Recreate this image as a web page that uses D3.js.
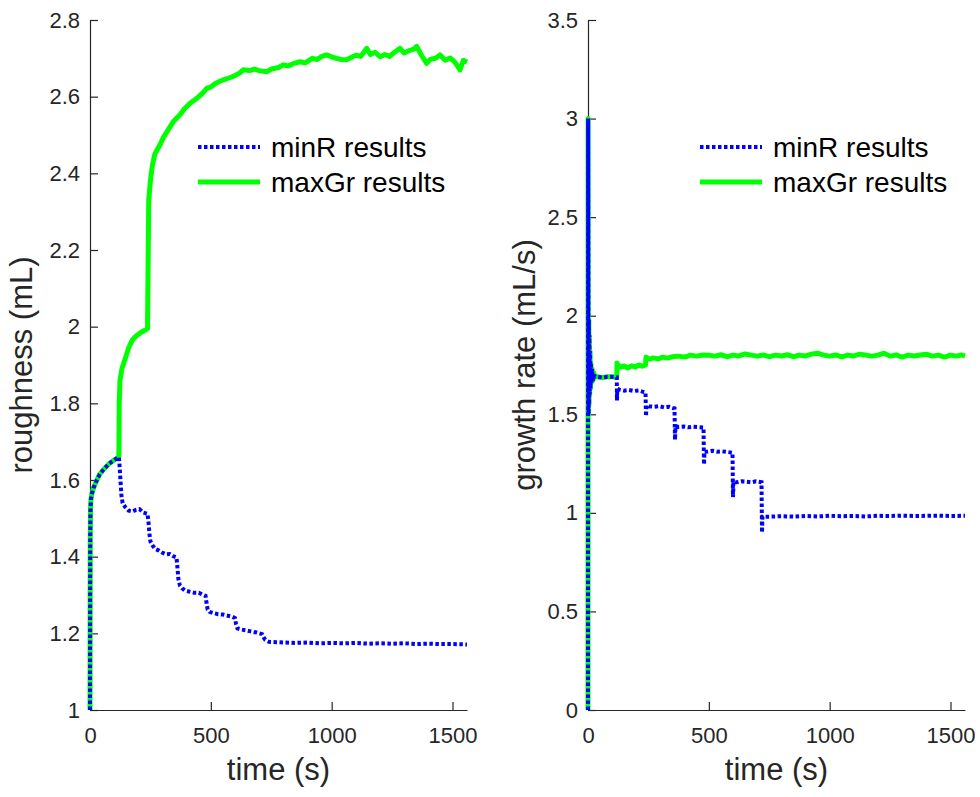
<!DOCTYPE html>
<html>
<head>
<meta charset="utf-8">
<script src="https://d3js.org/d3.v7.min.js"></script>
<style type="text/css">
  body { margin: 0; background: #fff; }
  text { font-family: "Liberation Sans", Arial, sans-serif; }
  .axis path, .axis line { stroke: #262626; stroke-width: 1.2px; }
  .axis text { fill: #262626; font-size: 22px; }
</style>
</head>
<body>
<div id="mainer"></div>
<script type="text/javascript">
// [time (s), value]
let roughMinR = [
  [0,1.0],[1,1.45],[2,1.52],[4,1.55],[8,1.565],[15,1.58],[25,1.595],[40,1.615],[60,1.63],[80,1.643],[100,1.652],[119,1.66],
  [122,1.64],[126,1.6],[130,1.56],[135,1.54],[145,1.53],[160,1.52],[175,1.518],[190,1.522],[205,1.524],[220,1.515],[238,1.512],
  [242,1.49],[246,1.46],[250,1.44],[258,1.43],[270,1.42],[285,1.416],[300,1.41],[315,1.406],[330,1.407],[345,1.401],[358,1.398],
  [362,1.37],[366,1.34],[372,1.325],[382,1.317],[395,1.311],[410,1.309],[430,1.306],[450,1.306],[465,1.301],[478,1.298],
  [482,1.28],[487,1.262],[495,1.256],[510,1.253],[530,1.25],[550,1.249],[570,1.246],[590,1.243],[600,1.24],
  [604,1.225],[610,1.213],[625,1.21],[645,1.208],[665,1.205],[690,1.202],[712,1.198],
  [718,1.19],[725,1.183],[740,1.178],[770,1.177],[800,1.176],[850,1.175],[900,1.176],[950,1.174],[1000,1.175],[1050,1.174],
  [1100,1.175],[1150,1.173],[1200,1.174],[1250,1.173],[1300,1.174],[1350,1.172],[1400,1.173],[1450,1.172],[1500,1.172],[1560,1.171]
];
let roughMaxGr = [
  [0,1.0],[1,1.45],[2,1.52],[4,1.55],[8,1.565],[15,1.58],[25,1.595],[40,1.615],[60,1.63],[80,1.643],[100,1.652],[119,1.66],
  [120,1.7],[121,1.8],[124,1.86],[132,1.89],[145,1.915],[160,1.945],[175,1.965],[190,1.975],[210,1.985],[225,1.99],[238,1.995],
  [241,2.2],[243,2.33],[250,2.38],[258,2.42],[268,2.45],[290,2.475],[305,2.495],[320,2.51],[345,2.535],[360,2.545],[375,2.555],
  [390,2.568],[414,2.583],[430,2.59],[450,2.6],[470,2.612],[483,2.622],[500,2.625],[520,2.635],[552,2.644],[580,2.65],[600,2.655],
  [620,2.662],[634,2.67],[660,2.668],[680,2.672],[700,2.668],[731,2.665],[750,2.672],[780,2.676],[800,2.683],[820,2.68],[840,2.686],
  [869,2.691],[890,2.688],[920,2.7],[940,2.697],[960,2.705],[979,2.709],[1000,2.704],[1020,2.7],[1040,2.697],[1062,2.696],
  [1080,2.702],[1100,2.708],[1120,2.705],[1145,2.726],[1160,2.71],[1180,2.716],[1200,2.704],[1220,2.71],[1240,2.705],[1260,2.716],
  [1283,2.726],[1300,2.714],[1320,2.72],[1340,2.724],[1352,2.731],[1370,2.71],[1393,2.687],[1410,2.698],[1430,2.7],[1448,2.709],
  [1470,2.695],[1490,2.701],[1510,2.69],[1531,2.67],[1545,2.695],[1560,2.69]
];
let rateMinR = [
  [0,0],[0.5,3.0],[1.5,2.05],[2.5,1.5],[3.5,1.98],[4.5,1.55],[5.5,1.9],[7,1.6],[8.5,1.82],[10,1.63],[12,1.76],[14,1.66],
  [17,1.73],[20,1.67],[24,1.71],[28,1.69],[40,1.69],[60,1.686],[80,1.69],[100,1.69],[119,1.688],
  [120,1.57],[121,1.63],[130,1.625],[150,1.62],[170,1.623],[190,1.618],[210,1.621],[225,1.615],[238,1.612],
  [240,1.49],[242,1.545],[255,1.54],[275,1.538],[295,1.541],[315,1.535],[335,1.538],[350,1.532],[358,1.53],
  [360,1.37],[362,1.44],[375,1.436],[395,1.438],[415,1.434],[435,1.437],[455,1.435],[478,1.433],
  [480,1.245],[482,1.31],[495,1.311],[515,1.315],[535,1.31],[555,1.312],[575,1.309],[598,1.305],
  [600,1.08],[602,1.16],[615,1.155],[635,1.16],[655,1.158],[675,1.155],[695,1.16],[718,1.155],
  [720,0.9],[722,0.98],[760,0.981],[800,0.983],[850,0.981],[900,0.984],[950,0.982],[1000,0.985],[1050,0.983],[1100,0.984],
  [1150,0.982],[1200,0.985],[1250,0.984],[1300,0.986],[1350,0.984],[1400,0.985],[1450,0.986],[1500,0.984],[1560,0.985]
];
let rateMaxGr = [
  [0,0],[0.5,3.0],[1.5,2.05],[2.5,1.5],[3.5,1.98],[4.5,1.55],[5.5,1.9],[7,1.6],[8.5,1.82],[10,1.63],[12,1.76],[14,1.66],
  [17,1.73],[20,1.67],[24,1.71],[28,1.69],[40,1.69],[60,1.686],[80,1.69],[100,1.69],[119,1.688],
  [120,1.76],[124,1.75],[135,1.74],[150,1.745],[165,1.735],[180,1.746],[195,1.74],[210,1.75],[225,1.744],[238,1.75],
  [240,1.79],[255,1.78],[270,1.786],[290,1.781],[310,1.79],[330,1.785],[350,1.792],[375,1.795],[400,1.79],[425,1.8],
  [450,1.795],[475,1.801],[500,1.8],[525,1.795],[550,1.802],[575,1.792],[600,1.8],[625,1.796],[650,1.806],[675,1.8],
  [700,1.795],[725,1.801],[750,1.792],[775,1.8],[800,1.796],[825,1.802],[850,1.792],[875,1.8],[900,1.796],[925,1.805],
  [950,1.81],[975,1.8],[1000,1.795],[1025,1.801],[1050,1.791],[1075,1.8],[1100,1.796],[1125,1.805],[1150,1.8],[1175,1.795],
  [1200,1.8],[1225,1.81],[1250,1.795],[1275,1.801],[1300,1.79],[1325,1.8],[1350,1.796],[1375,1.801],[1400,1.805],[1425,1.795],
  [1450,1.8],[1475,1.79],[1500,1.8],[1525,1.795],[1545,1.801],[1560,1.795]
];
let timeTicks = [0, 500, 1000, 1500];
let roughTicks = [1, 1.2, 1.4, 1.6, 1.8, 2, 2.2, 2.4, 2.6, 2.8];
let rateTicks = [0, 0.5, 1, 1.5, 2, 2.5, 3, 3.5];
let legendNames = ["minR results", "maxGr results"];
let yLabels = ["roughness (mL)", "growth rate (mL/s)"];

let width = 980;
let height = 797;
let svg = d3.select("#mainer")
.append("svg")
.attr("width", width)
.attr("height", height);

let panels = [
  {left: 90, right: 467, yDomain: [1, 2.8], ticks: roughTicks, minR: roughMinR, maxGr: roughMaxGr, label: yLabels[0], labelX: 32, legendX: 198},
  {left: 588, right: 965, yDomain: [0, 3.5], ticks: rateTicks, minR: rateMinR, maxGr: rateMaxGr, label: yLabels[1], labelX: 535, legendX: 700}
];
let plotTop = 20, plotBottom = 710;

panels.forEach(function(p){
  let xScale = d3.scaleLinear().domain([0, 1560]).range([p.left, p.right]);
  let yScale = d3.scaleLinear().domain(p.yDomain).range([plotBottom, plotTop]);

  svg.append("g")
  .attr("class", "axis")
  .attr("transform", `translate(0,${plotBottom})`)
  .call(d3.axisBottom(xScale).tickValues(timeTicks).tickFormat(d3.format("d")).tickSizeInner(-8).tickSizeOuter(0).tickPadding(17));

  svg.append("g")
  .attr("class", "axis")
  .attr("transform", `translate(${p.left},0)`)
  .call(d3.axisLeft(yScale).tickValues(p.ticks).tickFormat(d3.format("~g")).tickSizeInner(-8).tickSizeOuter(0).tickPadding(10));

  svg.selectAll(".axis text").attr("font-family", null);
  svg.selectAll(".axis").attr("font-size", null);

  let line = d3.line()
  .x(function(d){ return xScale(d[0]); })
  .y(function(d){ return yScale(d[1]); });

  svg.append("path")
  .attr("d", line(p.maxGr))
  .attr("fill", "none")
  .attr("stroke", "#00ff00")
  .attr("stroke-width", 5)
  .attr("stroke-linejoin", "round");

  svg.append("path")
  .attr("d", line(p.minR))
  .attr("fill", "none")
  .attr("stroke", "#0000ff")
  .attr("stroke-width", 4)
  .attr("stroke-dasharray", "3.5,2.5");

  // axis titles
  svg.append("text")
  .attr("x", (p.left + p.right) / 2)
  .attr("y", 780)
  .attr("text-anchor", "middle")
  .attr("font-size", 31)
  .attr("fill", "#262626")
  .text("time (s)");

  svg.append("text")
  .attr("transform", `translate(${p.labelX},${(plotTop + plotBottom) / 2}) rotate(-90)`)
  .attr("text-anchor", "middle")
  .attr("font-size", 31)
  .attr("fill", "#262626")
  .text(p.label);

  // legend
  let lx = p.legendX;
  let leg = svg.append("g");
  leg.append("line")
  .attr("x1", lx).attr("x2", lx + 62)
  .attr("y1", 147).attr("y2", 147)
  .attr("stroke", "#0000ff")
  .attr("stroke-width", 4)
  .attr("stroke-dasharray", "3.5,2.5");
  leg.append("line")
  .attr("x1", lx).attr("x2", lx + 62)
  .attr("y1", 182).attr("y2", 182)
  .attr("stroke", "#00ff00")
  .attr("stroke-width", 5);
  leg.selectAll("text")
  .data(legendNames)
  .enter()
  .append("text")
  .attr("x", lx + 73)
  .attr("y", function(d, i){ return 157 + i * 35; })
  .attr("font-size", 28)
  .attr("fill", "#000")
  .text(function(d){ return d; });
});
</script>
</body>
</html>
